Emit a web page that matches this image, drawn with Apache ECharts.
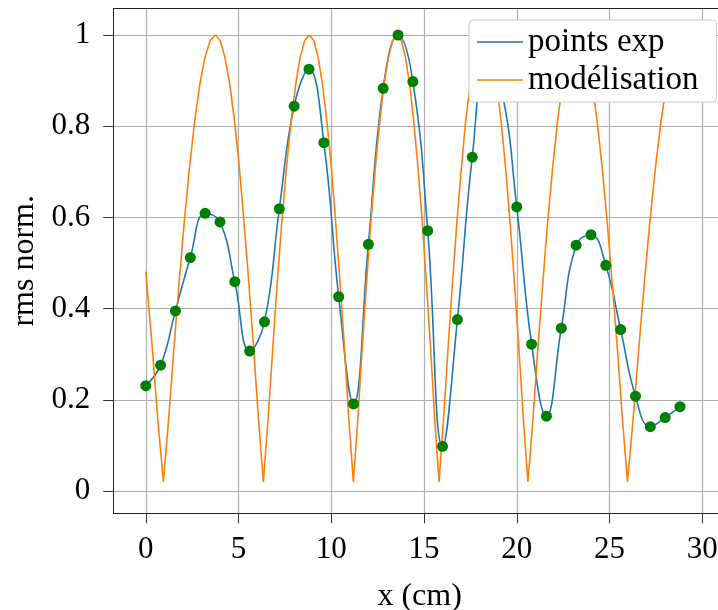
<!DOCTYPE html>
<html>
<head>
<meta charset="utf-8">
<script src="https://cdn.jsdelivr.net/npm/echarts@6/dist/echarts.min.js"></script>
<style>
html,body{margin:0;padding:0;background:#fff;}
#chart{width:718px;height:610px;}
</style>
</head>
<body>
<div id="chart"></div>
<script>
// Experimental points (x in cm, normalized rms)
const xExp = [0, 0.8, 1.6, 2.4, 3.2, 4.0, 4.8, 5.6, 6.4, 7.2, 8.0, 8.8, 9.6, 10.4, 11.2, 12.0, 12.8, 13.6, 14.4, 15.2, 16.0, 16.8, 17.6, 18.4, 19.2, 20.0, 20.8, 21.6, 22.4, 23.2, 24.0, 24.8, 25.6, 26.4, 27.2, 28.0, 28.8];
const yExp = [0.231, 0.276, 0.395, 0.512, 0.609, 0.590, 0.459, 0.307, 0.371, 0.619, 0.844, 0.925, 0.764, 0.426, 0.191, 0.541, 0.883, 1.0, 0.898, 0.571, 0.098, 0.376, 0.732, 0.94, 0.875, 0.623, 0.322, 0.164, 0.357, 0.539, 0.562, 0.495, 0.354, 0.208, 0.141, 0.161, 0.185];

// Model curve
const xModel = [
  0, 0.06, 0.36, 0.65,
  0.95, 1.23, 1.51, 1.79, 2.07, 2.35, 2.63, 2.91, 3.19, 3.47, 3.75, 4.01, 4.27, 4.53, 4.79, 5.05, 5.30, 5.56, 5.82, 6.08,
  6.34, 6.59, 6.84, 7.08, 7.33, 7.58, 7.83, 8.08, 8.32, 8.57, 8.82, 9.06, 9.29, 9.53, 9.77, 10.01, 10.24, 10.48, 10.72, 10.95,
  11.19, 11.43, 11.66, 11.90, 12.13, 12.37, 12.61, 12.84, 13.08, 13.31, 13.55, 13.78, 14.00, 14.23, 14.45, 14.68, 14.91, 15.13, 15.36, 15.58,
  15.81, 16.05, 16.29, 16.53, 16.77, 17.01, 17.24, 17.48, 17.72, 17.96, 18.20, 18.44, 18.68, 18.92, 19.16, 19.40, 19.64, 19.88, 20.12, 20.36,
  20.60, 20.87, 21.13, 21.40, 21.66, 21.93, 22.19, 22.46, 22.72, 22.99, 23.25, 23.52, 23.79, 24.07, 24.34, 24.61, 24.88, 25.15, 25.43, 25.70,
  25.97, 26.27, 26.57, 26.87, 27.17, 27.47, 27.77, 28.07, 28.37, 28.67, 28.80
];
const yModel = [
  0.481, 0.454, 0.309, 0.156,
  0.02, 0.156, 0.309, 0.454, 0.588, 0.707, 0.809, 0.891, 0.951, 0.988, 1.0, 0.988, 0.951, 0.891, 0.809, 0.707, 0.588, 0.454, 0.309, 0.156,
  0.02, 0.156, 0.309, 0.454, 0.588, 0.707, 0.809, 0.891, 0.951, 0.988, 1.0, 0.988, 0.951, 0.891, 0.809, 0.707, 0.588, 0.454, 0.309, 0.156,
  0.02, 0.156, 0.309, 0.454, 0.588, 0.707, 0.809, 0.891, 0.951, 0.988, 1.0, 0.988, 0.951, 0.891, 0.809, 0.707, 0.588, 0.454, 0.309, 0.156,
  0.02, 0.156, 0.309, 0.454, 0.588, 0.707, 0.809, 0.891, 0.951, 0.988, 1.0, 0.988, 0.951, 0.891, 0.809, 0.707, 0.588, 0.454, 0.309, 0.156,
  0.02, 0.156, 0.309, 0.454, 0.588, 0.707, 0.809, 0.891, 0.951, 0.988, 1.0, 0.988, 0.951, 0.891, 0.809, 0.707, 0.588, 0.454, 0.309, 0.156,
  0.02, 0.156, 0.309, 0.454, 0.588, 0.707, 0.809, 0.891, 0.951, 0.988, 0.996
];

const xTicks = [0, 5, 10, 15, 20, 25, 30];
const yTicks = [0, 0.2, 0.4, 0.6, 0.8, 1];
const seriesNames = ['points exp', 'modélisation'];
const xTitle = 'x (cm)';
const yTitle = 'rms norm.';

const FONT = 'Liberation Serif';
const expData = xExp.map((x, i) => [x, yExp[i]]);
const modelData = xModel.map((x, i) => [x, yModel[i]]);

const chart = echarts.init(document.getElementById('chart'), null, {renderer: 'canvas'});
chart.setOption({
  animation: false,
  backgroundColor: '#ffffff',
  grid: {
    left: 113.3, top: 8.3, right: -8, bottom: 96.7,
    containLabel: false,
    outerBoundsMode: 'none',
    show: false
  },
  legend: {
    orient: 'vertical',
    left: 469, top: 20,
    z: 20,
    padding: [4, 18, 4, 8],
    itemGap: 2,
    itemWidth: 46,
    itemHeight: 1.6,
    backgroundColor: '#ffffff',
    borderColor: '#cccccc',
    borderWidth: 1,
    borderRadius: 4,
    textStyle: {fontFamily: FONT, fontSize: 33, lineHeight: 36, color: '#000'},
    data: [{name: seriesNames[0], icon: 'rect'}, {name: seriesNames[1], icon: 'rect'}]
  },
  xAxis: [{
    type: 'value',
    min: -1.75, max: 31.28,
    minInterval: 5, maxInterval: 5,
    name: xTitle,
    nameLocation: 'middle',
    nameGap: 67,
    nameTextStyle: {fontFamily: FONT, fontSize: 32, color: '#000'},
    axisLine: {show: true, onZero: false, lineStyle: {color: '#222', width: 1}},
    axisTick: {show: true, length: 10, customValues: xTicks, lineStyle: {color: '#333', width: 1}},
    axisLabel: {customValues: xTicks, fontFamily: FONT, fontSize: 31, color: '#000', margin: 21},
    splitLine: {show: true, lineStyle: {color: '#b0b0b0', width: 1.2}}
  }, {
    type: 'value',
    position: 'top',
    min: -1.75, max: 31.28,
    axisLine: {show: true, onZero: false, lineStyle: {color: '#222', width: 1}},
    axisTick: {show: false},
    axisLabel: {show: false},
    splitLine: {show: false}
  }],
  yAxis: {
    type: 'value',
    min: -0.0489, max: 1.0586,
    minInterval: 0.2, maxInterval: 0.2,
    name: yTitle,
    nameLocation: 'middle',
    nameRotate: 90,
    nameGap: 72,
    nameTextStyle: {fontFamily: FONT, fontSize: 32, color: '#000'},
    axisLine: {show: true, onZero: false, lineStyle: {color: '#222', width: 1}},
    axisTick: {show: true, length: 10, customValues: yTicks, lineStyle: {color: '#333', width: 1}},
    axisLabel: {customValues: yTicks, fontFamily: FONT, fontSize: 31, color: '#000', margin: 23},
    splitLine: {show: true, lineStyle: {color: '#b0b0b0', width: 1.2}}
  },
  series: [
    {
      name: seriesNames[0], type: 'line', data: expData,
      smooth: 0.45, showSymbol: false, symbol: 'none',
      lineStyle: {color: '#1f77b4', width: 1.6}, itemStyle: {color: '#1f77b4'}, z: 2
    },
    {
      name: seriesNames[1], type: 'line', data: modelData,
      smooth: false, showSymbol: false, symbol: 'none',
      lineStyle: {color: '#ff7f0e', width: 1.6}, itemStyle: {color: '#ff7f0e'}, z: 2
    },
    {
      name: 'mesures', type: 'scatter', data: expData,
      symbol: 'circle', symbolSize: 11,
      itemStyle: {color: '#008000', opacity: 1}, z: 3
    }
  ]
});
</script>
</body>
</html>
